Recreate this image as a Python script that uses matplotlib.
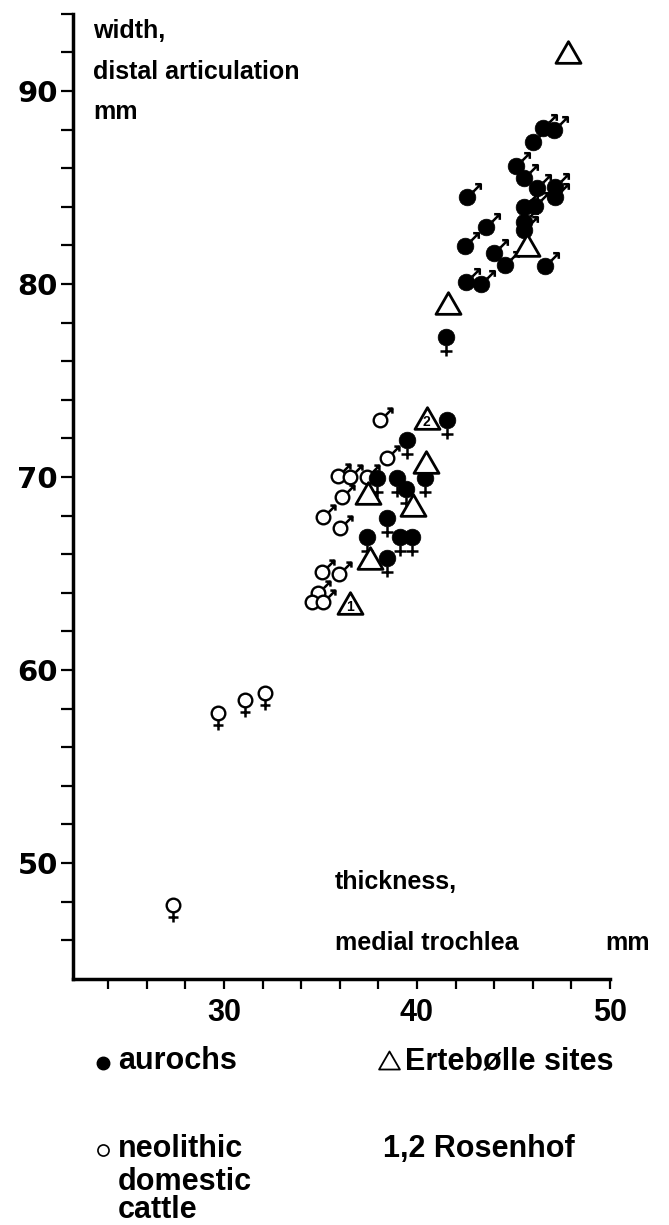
import matplotlib
matplotlib.use('Agg')
import matplotlib.pyplot as plt
from matplotlib.path import Path
from matplotlib.markers import MarkerStyle
from matplotlib.lines import Line2D

# ---------------- data ----------------
aurochs_x = [46.55, 47.1, 46.0, 45.11, 45.56, 46.2, 47.15, 47.15, 45.56, 46.1,
             45.56, 45.56, 42.57, 43.58, 42.49, 43.99, 44.56, 46.63, 42.54, 43.3,
             41.5, 41.54, 39.47, 37.94, 38.95, 39.41, 40.41, 38.43, 37.39, 39.12,
             39.72, 38.43]
aurochs_y = [88.07, 88.0, 87.37, 86.1, 85.48, 84.96, 85.05, 84.53, 84.0, 84.06,
             83.23, 82.8, 84.53, 82.97, 81.97, 81.6, 80.98, 80.93, 80.1, 80.0,
             77.25, 72.95, 71.9, 69.93, 69.93, 69.4, 69.93, 67.86, 66.91, 66.91,
             66.91, 65.79]
aurochs_sex = ['m'] * 20 + ['f'] * 12

neo_x = [38.08, 38.43, 35.93, 36.53, 37.39, 36.1, 35.15, 36.0, 35.06, 35.98,
         34.89, 34.54, 35.15, 29.7, 31.09, 32.12, 27.37]
neo_y = [72.95, 70.97, 70.05, 70.0, 69.98, 68.98, 67.94, 67.34, 65.1, 65.0,
         63.97, 63.54, 63.54, 57.76, 58.44, 58.8, 47.82]
neo_sex = ['m'] * 13 + ['f'] * 4

ert_x = [47.8, 45.68, 41.6, 40.5, 40.47, 37.48, 39.8, 37.56, 36.53]
ert_y = [92.0, 82.0, 79.0, 73.04, 70.8, 69.16, 68.55, 65.79, 63.46]
ert_label = ['', '', '', '2', '', '', '', '', '1']

x_ticks = [30, 40, 50]
y_ticks = [50, 60, 70, 80, 90]

# ---------------- figure ----------------
W, H = 669, 1225
fig = plt.figure(figsize=(W / 100, H / 100), dpi=100)
PX = 19.3  # pixels per unit (both axes)
left_px, bottom_px = 73, 979
x0 = 30 - (224 - left_px) / PX
x1 = 30 + (W - 224) / PX
y0 = 90 - (bottom_px - 91) / PX
y1 = 90 + 91 / PX
ax = fig.add_axes([left_px / W, (H - bottom_px) / H, 1 - left_px / W, bottom_px / H])
ax.set_xlim(x0, x1)
ax.set_ylim(y0, y1)

for s in ['top', 'right']:
    ax.spines[s].set_visible(False)
ax.spines['left'].set_linewidth(2.5)
ax.spines['bottom'].set_linewidth(2.5)
ax.spines['left'].set_bounds(y0, 94)
ax.spines['bottom'].set_bounds(x0, 50)

ax.set_xticks(x_ticks)
ax.set_xticks([v for v in range(24, 50, 2) if v not in x_ticks], minor=True)
ax.set_yticks(y_ticks)
ax.set_yticks([v for v in range(46, 95, 2) if v not in y_ticks], minor=True)
ax.tick_params(axis='y', which='both', length=9, width=1.6, pad=2,
               labelsize=21)
ax.tick_params(axis='x', which='both', length=7.5, width=1.6, pad=6,
               labelsize=22)
for lab in ax.get_yticklabels():
    lab.set_fontfamily('DejaVu Sans')
    lab.set_fontweight('bold')
for lab in ax.get_xticklabels():
    lab.set_fontfamily('Liberation Sans')
    lab.set_fontweight('bold')

# ---------------- markers ----------------
N = 2.5
male_path = Path([(N, 0), (0.72, 0.72), (1.65, 1.65), (0.95, 1.65), (1.65, 1.65), (1.65, 0.95)],
                 [Path.MOVETO, Path.MOVETO, Path.LINETO, Path.MOVETO, Path.LINETO, Path.LINETO])
female_path = Path([(N, 0), (0, -1.0), (0, -2.4), (-0.72, -1.72), (0.72, -1.72)],
                   [Path.MOVETO, Path.MOVETO, Path.LINETO, Path.MOVETO, Path.LINETO])
male_m = MarkerStyle(male_path, joinstyle='miter', capstyle='butt')
female_m = MarkerStyle(female_path, joinstyle='miter', capstyle='butt')
tri_path = Path([(0, 0.866), (-1, -0.866), (1, -0.866), (0, 0.866)],
                [Path.MOVETO, Path.LINETO, Path.LINETO, Path.CLOSEPOLY])
tri_m = MarkerStyle(tri_path, joinstyle='miter')

def deco(xs, ys, sexes, ms, z):
    for sx, mk in (('m', male_m), ('f', female_m)):
        px = [a for a, s in zip(xs, sexes) if s == sx]
        py = [b for b, s in zip(ys, sexes) if s == sx]
        ax.plot(px, py, linestyle='none', marker=mk, markersize=ms,
                markerfacecolor='none', markeredgecolor='black',
                markeredgewidth=1.8, zorder=z)

# neolithic domestic cattle (open)
deco(neo_x, neo_y, neo_sex, 26, 2)
ax.plot(neo_x, neo_y, linestyle='none', marker='o', markersize=9.8,
        markerfacecolor='white', markeredgecolor='black', markeredgewidth=1.7,
        zorder=3)
# aurochs (filled)
deco(aurochs_x, aurochs_y, aurochs_sex, 29, 4)
ax.plot(aurochs_x, aurochs_y, linestyle='none', marker='o', markersize=12,
        markerfacecolor='black', markeredgecolor='black', markeredgewidth=0.5,
        zorder=5)
# Ertebølle sites (triangles)
ax.plot(ert_x, ert_y, linestyle='none', marker=tri_m, markersize=18,
        markerfacecolor='white', markeredgecolor='black', markeredgewidth=2.0,
        zorder=6)
for xv, yv, t in zip(ert_x, ert_y, ert_label):
    if t:
        ax.text(xv, yv - 0.2, t, ha='center', va='center', fontsize=10,
                fontweight='bold', family='Liberation Sans', zorder=7)

# ---------------- axis texts ----------------
tf = dict(family='Liberation Sans', fontsize=18, fontweight='bold', color='black')
def fx(px):
    return px / W
def fy(py):
    return 1 - py / H

fig.text(fx(93), fy(31), 'width,', ha='left', va='center', **tf)
fig.text(fx(93), fy(72), 'distal articulation', ha='left', va='center', **tf)
fig.text(fx(93), fy(112), 'mm', ha='left', va='center', **tf)
fig.text(fx(335), fy(882), 'thickness,', ha='left', va='center', **tf)
fig.text(fx(335), fy(943), 'medial trochlea', ha='left', va='center', **tf)
fig.text(fx(650), fy(943), 'mm', ha='right', va='center', **tf)

# ---------------- legend ----------------
lf = dict(family='Liberation Sans', fontsize=22, fontweight='bold', color='black')
fig.add_artist(Line2D([fx(103)], [fy(1063)], marker='o', markersize=9,
                      color='black', transform=fig.transFigure))
fig.text(fx(118), fy(1061), 'aurochs', ha='left', va='center', **lf)
fig.add_artist(Line2D([fx(389)], [fy(1060)], marker=tri_m, markersize=15,
                      markerfacecolor='none', markeredgecolor='black',
                      markeredgewidth=1.3, transform=fig.transFigure))
fig.text(fx(405), fy(1061), 'Ertebølle sites', ha='left', va='center', **lf)
fig.add_artist(Line2D([fx(103)], [fy(1150)], marker='o', markersize=8,
                      markerfacecolor='none', markeredgecolor='black',
                      markeredgewidth=1.2, transform=fig.transFigure))
fig.text(fx(118), fy(1157), 'neolithic', ha='left', va='baseline', **lf)
fig.text(fx(118), fy(1190), 'domestic', ha='left', va='baseline', **lf)
fig.text(fx(118), fy(1218), 'cattle', ha='left', va='baseline', **lf)
fig.text(fx(383), fy(1157), '1,2 Rosenhof', ha='left', va='baseline', **lf)

fig.savefig('out.png', dpi=100)
